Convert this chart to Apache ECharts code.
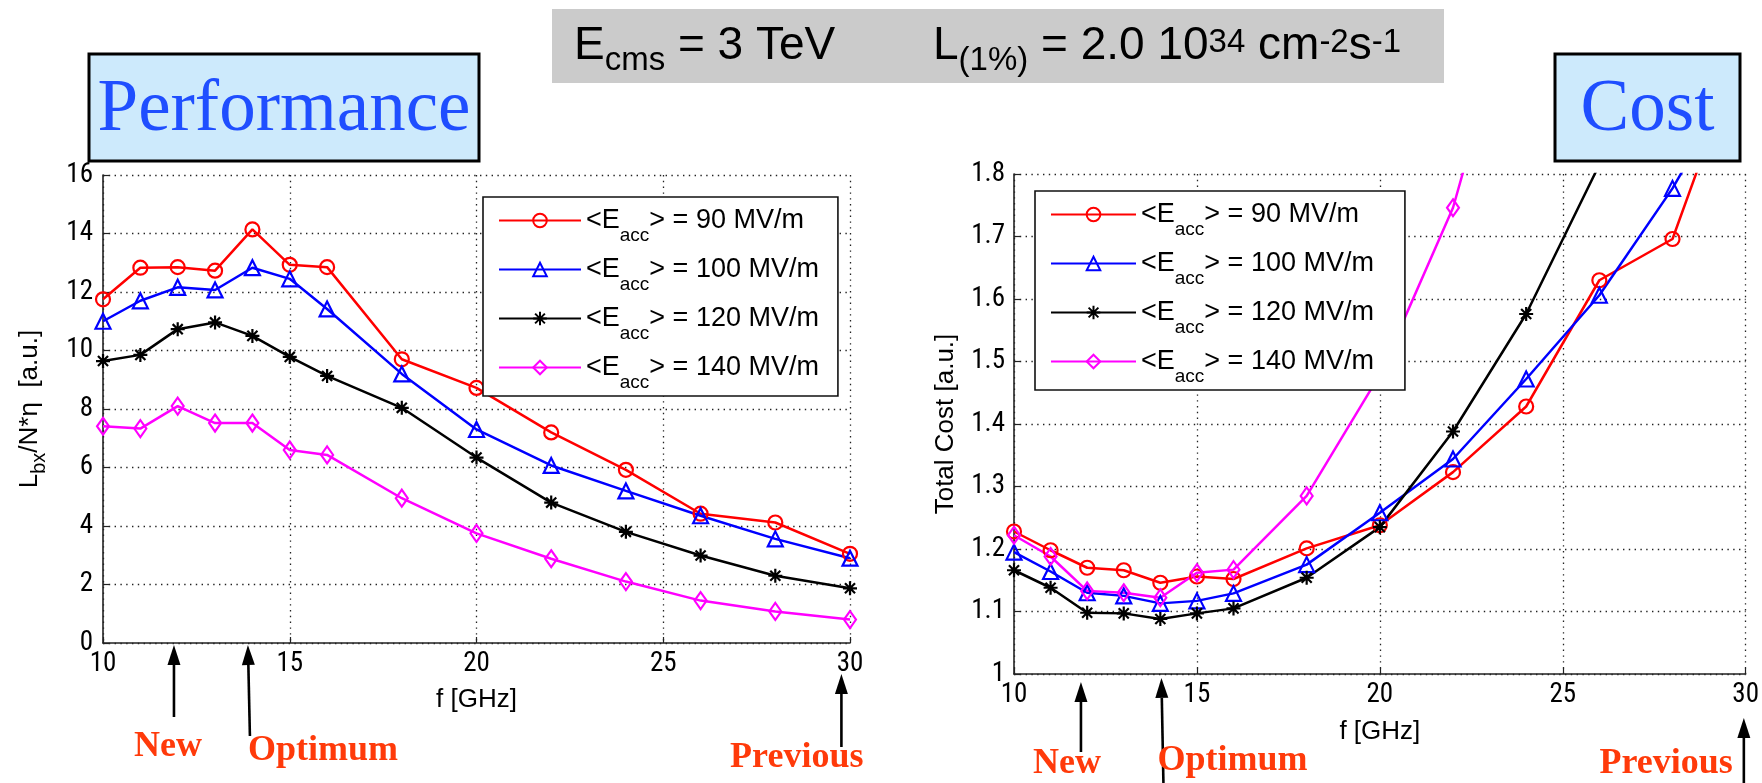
<!DOCTYPE html>
<html><head><meta charset="utf-8">
<script src="https://cdn.jsdelivr.net/npm/echarts@6/dist/echarts.min.js"></script>
<style>html,body{margin:0;padding:0;background:#fff}#main{width:1762px;height:783px}</style>
</head><body><div id="main"></div><script>
// ---------- data ----------
const freq = [10, 11, 12, 13, 14, 15, 16, 18, 20, 22, 24, 26, 28, 30];
const gradients = ['90 MV/m', '100 MV/m', '120 MV/m', '140 MV/m'];
// Performance  L_bx / N*eta  [a.u.]
const perf90  = [11.75, 12.83, 12.85, 12.73, 14.14, 12.93, 12.85, 9.70, 8.72, 7.20, 5.92, 4.42, 4.12, 3.05];
const perf100 = [11.00, 11.70, 12.16, 12.07, 12.83, 12.45, 11.42, 9.20, 7.30, 6.07, 5.20, 4.35, 3.56, 2.90];
const perf120 = [9.64, 9.85, 10.73, 10.96, 10.50, 9.78, 9.13, 8.04, 6.34, 4.80, 3.80, 2.99, 2.30, 1.87];
const perf140 = [7.41, 7.33, 8.10, 7.52, 7.52, 6.60, 6.43, 4.95, 3.75, 2.88, 2.10, 1.45, 1.08, 0.80];
// Total cost [a.u.]  (values above 1.8 leave the plotted window)
const cost90  = [1.228, 1.198, 1.170, 1.166, 1.146, 1.156, 1.152, 1.201, 1.238, 1.323, 1.428, 1.630, 1.696, 2.02];
const cost100 = [1.195, 1.164, 1.130, 1.125, 1.113, 1.117, 1.129, 1.175, 1.258, 1.344, 1.472, 1.606, 1.777, 1.98];
const cost120 = [1.166, 1.138, 1.098, 1.097, 1.088, 1.097, 1.105, 1.154, 1.235, 1.388, 1.576, 1.815, null, null];
const cost140 = [1.222, 1.188, 1.133, 1.130, 1.122, 1.162, 1.167, 1.285, 1.479, 1.746, 2.16, null, null, null];
// axes
const perfYTicks = {min: 0, max: 16, interval: 2};
const costYTicks = {min: 1, max: 1.8, interval: 0.1};
const fTicks = {min: 10, max: 30, interval: 5};
// annotations (frequency where each arrow points)
const annotLabels = ['New', 'Optimum', 'Previous'];
const annotPerfF = [11.9, 13.88, 29.77];
const annotCostF = [11.83, 14.03, 29.95];

// ---------- style ----------
const colors = ['#ff0000', '#0000ff', '#000000', '#ff00ff'];
const starPath = 'path://M5,0L5,10M0,5L10,5M1.4,1.4L8.6,8.6M1.4,8.6L8.6,1.4';
const symbols = ['circle', 'triangle', starPath, 'diamond'];
const symSizes = [14, 15, 14, [12, 17]];
const SANS = '"Liberation Sans", Arial, sans-serif';
const COND = '"Roboto Condensed", "Liberation Sans", sans-serif';
const SERIF = '"Liberation Serif", "Times New Roman", serif';

const perfData = [perf90, perf100, perf120, perf140];
const costData = [cost90, cost100, cost120, cost140];

function mkSeries(vals, idx, gi) {
  return {
    type: 'line', name: gradients[idx], xAxisIndex: gi, yAxisIndex: gi,
    data: freq.map((f, i) => [f, vals[i]]),
    symbol: symbols[idx], symbolSize: symSizes[idx], showAllSymbol: true,
    clip: true, animation: false, connectNulls: false,
    lineStyle: {color: colors[idx], width: 2.5},
    itemStyle: {color: idx === 2 ? colors[idx] : 'rgba(0,0,0,0)', borderColor: colors[idx], borderWidth: 2.2},
    emphasis: {disabled: true}
  };
}
const series = [];
perfData.forEach((d, i) => series.push(mkSeries(d, i, 0)));
costData.forEach((d, i) => series.push(mkSeries(d, i, 1)));

const gridLine = {show: true, lineStyle: {color: '#222', width: 1.3, type: [1.4, 4.4]}};
const axisLine = {show: true, onZero: false, lineStyle: {color: '#222', width: 1.6}};
const tick = {show: true, inside: true, length: 6, lineStyle: {color: '#222', width: 1.2}};
const tickLbl = (m) => ({color: '#000', fontFamily: COND, fontSize: 27, margin: m});

function xAxis(gi, gap) {
  return {type: 'value', gridIndex: gi, min: fTicks.min, max: fTicks.max, interval: fTicks.interval,
    name: 'f [GHz]', nameLocation: 'middle', nameGap: gap,
    nameTextStyle: {color: '#000', fontFamily: SANS, fontSize: 26},
    axisLine, axisTick: tick, splitLine: gridLine, axisLabel: tickLbl(8)};
}
const legendRich = {
  t: {fontFamily: SANS, fontSize: 27, color: '#000', lineHeight: 34},
  s: {fontFamily: SANS, fontSize: 19, color: '#000', lineHeight: 4, height: 4, verticalAlign: 'bottom'}
};
function legend(left, top, w, pad) {
  return {data: gradients, left, top, orient: 'vertical', itemWidth: w, itemHeight: 17, itemGap: 11,
    padding: pad, borderColor: '#111', borderWidth: 1.6, backgroundColor: '#fff',
    selectedMode: false,
    formatter: n => '{t|<E}{s|acc}{t|> = ' + n + '}',
    textStyle: {rich: legendRich}};
}

const chart = echarts.init(document.getElementById('main'), null, {renderer: 'canvas'});
chart.setOption({
  animation: false,
  backgroundColor: '#fff',
  grid: [
    {left: 103, top: 175, width: 747, height: 468},
    {left: 1014, top: 174, width: 734, height: 500}
  ],
  xAxis: [xAxis(0, 44), xAxis(1, 45)],
  yAxis: [
    {type: 'value', gridIndex: 0, min: perfYTicks.min, max: perfYTicks.max, interval: perfYTicks.interval,
      name: '{t|L}{s|bx}{t|/N*η  [a.u.]}', nameLocation: 'middle', nameGap: 58,
      nameTextStyle: {rich: {
        t: {fontFamily: SANS, fontSize: 26, color: '#000', lineHeight: 30},
        s: {fontFamily: SANS, fontSize: 20, color: '#000', lineHeight: 12, height: 12, verticalAlign: 'bottom'}}},
      axisLine, axisTick: tick, splitLine: gridLine, axisLabel: tickLbl(10)},
    {type: 'value', gridIndex: 1, min: costYTicks.min, max: costYTicks.max, interval: costYTicks.interval,
      name: 'Total Cost [a.u.]', nameLocation: 'middle', nameGap: 55,
      nameTextStyle: {fontFamily: SANS, fontSize: 26, color: '#000'},
      axisLine, axisTick: tick, splitLine: gridLine,
      axisLabel: Object.assign(tickLbl(9), {formatter: v => String(Math.round(v * 10) / 10)})}
  ],
  legend: [legend(483, 197, 82, [10, 19, 4, 15]), legend(1035, 191, 85, [10, 31, 4, 15])],
  series
});

// ---------- decorations & annotations ----------
function px(gi, f) { return chart.convertToPixel({xAxisIndex: gi}, f); }
const g = [];
// header box
g.push({type: 'rect', shape: {x: 552, y: 9, width: 892, height: 74}, style: {fill: '#cbcbcb'}, z: 10});
const hdrRich = {
  m: {fontFamily: SANS, fontSize: 46, color: '#000', lineHeight: 56},
  s: {fontFamily: SANS, fontSize: 33, color: '#000', lineHeight: 26, height: 26, verticalAlign: 'bottom'},
  p: {fontFamily: SANS, fontSize: 33, color: '#000', lineHeight: 49, height: 49, verticalAlign: 'top'}
};
g.push({type: 'text', x: 574, y: 46, z: 11, style: {text: '{m|E}{s|cms}{m| = 3 TeV}', rich: hdrRich, align: 'left', verticalAlign: 'middle'}});
g.push({type: 'text', x: 933, y: 46, z: 11, style: {text: '{m|L}{s|(1%)}{m| = 2.0 10}{p|34}{m| cm}{p|-2}{m|s}{p|-1}', rich: hdrRich, align: 'left', verticalAlign: 'middle'}});
// Performance / Cost boxes
function tagBox(x, y, w, h, label) {
  g.push({type: 'rect', shape: {x, y, width: w, height: h}, style: {fill: '#cdeafc', stroke: '#000', lineWidth: 3}, z: 10});
  g.push({type: 'text', x: x + w / 2, y: y + h / 2 + 3, z: 11, style: {text: label, fontFamily: SERIF, fontSize: 73, fill: '#1f4eff', align: 'center', verticalAlign: 'middle'}});
}
tagBox(89, 54, 390, 107, 'Performance');
tagBox(1555, 54, 185, 107, 'Cost');
// arrows
function arrow(x1, y1, x2, y2) { // tip (x1,y1), tail (x2,y2)
  const hl = 20, hw = 6.5;
  const dx = x2 - x1, dy = y2 - y1, L = Math.hypot(dx, dy), ux = dx / L, uy = dy / L;
  const bx = x1 + ux * hl, by = y1 + uy * hl;
  g.push({type: 'line', shape: {x1: bx, y1: by, x2, y2}, style: {stroke: '#000', lineWidth: 2.6}, z: 12});
  g.push({type: 'polygon', shape: {points: [[x1, y1], [bx - uy * hw, by + ux * hw], [bx + uy * hw, by - ux * hw]]}, style: {fill: '#000'}, z: 12});
}
function note(text, x, y, align) {
  g.push({type: 'text', x, y, z: 12, style: {text, fontFamily: SERIF, fontWeight: 'bold', fontSize: 36, fill: '#ff3a0a', align, verticalAlign: 'middle'}});
}
// left panel
const lp = annotPerfF.map(f => px(0, f));
arrow(lp[0], 645, lp[0], 717);
arrow(lp[1], 645, lp[1] + 2, 736);
arrow(lp[2], 674, lp[2], 747);
note(annotLabels[0], lp[0] - 6, 747, 'center');
note(annotLabels[1], lp[1], 751, 'left');
note(annotLabels[2], lp[2] + 22, 758, 'right');
// right panel
const rp = annotCostF.map(f => px(1, f));
arrow(rp[0], 682, rp[0], 752);
arrow(rp[1], 678, rp[1] + 2, 783);
arrow(rp[2], 718, rp[2], 783);
note(annotLabels[0], rp[0] - 14, 764, 'center');
note(annotLabels[1], rp[1] - 4, 761, 'left');
note(annotLabels[2], rp[2] - 11, 764, 'right');
chart.setOption({graphic: g});
</script></body></html>
